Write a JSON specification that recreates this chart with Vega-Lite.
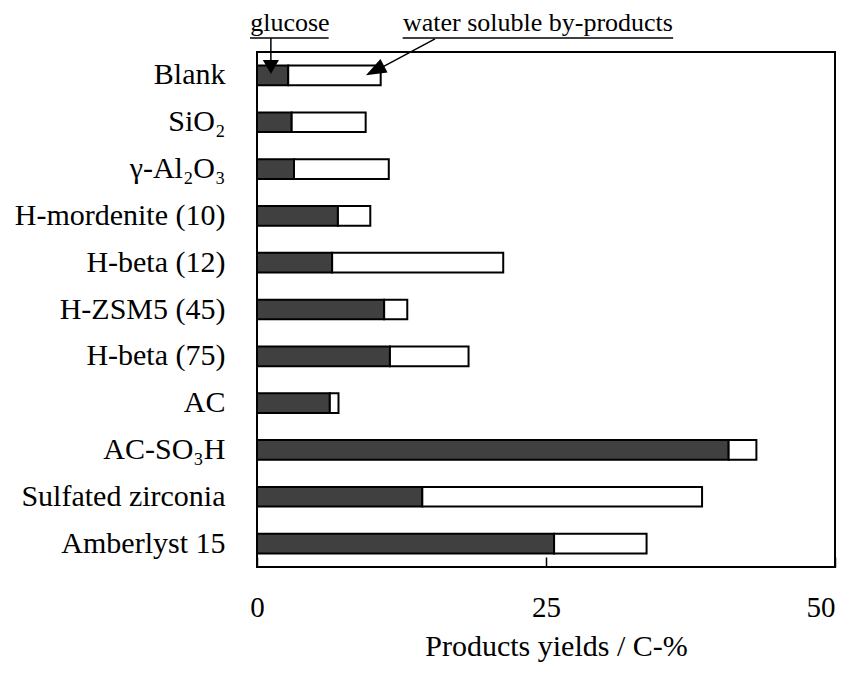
{
  "$schema": "https://vega.github.io/schema/vega-lite/v6.json",
  "width": 578,
  "height": 515,
  "autosize": {"type": "none"},
  "padding": {"left": 257, "top": 52, "right": 6, "bottom": 106},
  "background": "white",
  "config": {
    "view": {"stroke": "black", "strokeWidth": 2},
    "font": "Liberation Serif"
  },
  "datasets": {
    "yields": [
      {"catalyst": "Blank", "product": "glucose", "ord": 1, "value": 2.7},
      {"catalyst": "Blank", "product": "water soluble by-products", "ord": 2, "value": 8.0},
      {"catalyst": "SiO₂", "product": "glucose", "ord": 1, "value": 3.0},
      {"catalyst": "SiO₂", "product": "water soluble by-products", "ord": 2, "value": 6.4},
      {"catalyst": "γ-Al₂O₃", "product": "glucose", "ord": 1, "value": 3.2},
      {"catalyst": "γ-Al₂O₃", "product": "water soluble by-products", "ord": 2, "value": 8.2},
      {"catalyst": "H-mordenite (10)", "product": "glucose", "ord": 1, "value": 7.0},
      {"catalyst": "H-mordenite (10)", "product": "water soluble by-products", "ord": 2, "value": 2.8},
      {"catalyst": "H-beta (12)", "product": "glucose", "ord": 1, "value": 6.5},
      {"catalyst": "H-beta (12)", "product": "water soluble by-products", "ord": 2, "value": 14.8},
      {"catalyst": "H-ZSM5 (45)", "product": "glucose", "ord": 1, "value": 11.0},
      {"catalyst": "H-ZSM5 (45)", "product": "water soluble by-products", "ord": 2, "value": 2.0},
      {"catalyst": "H-beta (75)", "product": "glucose", "ord": 1, "value": 11.5},
      {"catalyst": "H-beta (75)", "product": "water soluble by-products", "ord": 2, "value": 6.8},
      {"catalyst": "AC", "product": "glucose", "ord": 1, "value": 6.3},
      {"catalyst": "AC", "product": "water soluble by-products", "ord": 2, "value": 0.75},
      {"catalyst": "AC-SO₃H", "product": "glucose", "ord": 1, "value": 40.8},
      {"catalyst": "AC-SO₃H", "product": "water soluble by-products", "ord": 2, "value": 2.4},
      {"catalyst": "Sulfated zirconia", "product": "glucose", "ord": 1, "value": 14.3},
      {"catalyst": "Sulfated zirconia", "product": "water soluble by-products", "ord": 2, "value": 24.2},
      {"catalyst": "Amberlyst 15", "product": "glucose", "ord": 1, "value": 25.7},
      {"catalyst": "Amberlyst 15", "product": "water soluble by-products", "ord": 2, "value": 8.0}
    ],
    "labels": [
      {"text": "glucose", "x": 2.85, "y": 11.45},
      {"text": "water soluble by-products", "x": 24.3, "y": 11.45}
    ],
    "underlines": [
      {"x": -0.6, "x2": 6.2, "y": 11.30},
      {"x": 12.6, "x2": 36.0, "y": 11.30}
    ],
    "arrows": [
      {"arrow": "glucose", "x": 1.2, "y": 11.30},
      {"arrow": "glucose", "x": 1.2, "y": 10.70},
      {"arrow": "water", "x": 15.4, "y": 11.28},
      {"arrow": "water", "x": 10.8, "y": 10.67}
    ],
    "headG": [{"x": 1.2, "y": 10.68}],
    "headW": [{"x": 10.4, "y": 10.63}]
  },
  "layer": [
    {
      "data": {"name": "yields"},
      "mark": {"type": "bar", "stroke": "black", "strokeWidth": 2},
      "encoding": {
        "y": {
          "field": "catalyst", "type": "nominal", "sort": null,
          "scale": {"paddingInner": 0.58, "paddingOuter": 0.29},
          "axis": {
            "title": null, "ticks": false, "domain": false,
            "labelPadding": 32, "labelFontSize": 30, "labelFont": "Liberation Serif",
            "labelColor": "black", "labelLimit": 400
          }
        },
        "x": {
          "field": "value", "type": "quantitative", "stack": "zero",
          "title": "Products yields / C-%",
          "scale": {"domain": [0, 50], "nice": false},
          "axis": {
            "values": [0, 25, 50],
            "grid": false, "domain": false,
            "tickSize": -10, "tickColor": "black", "tickWidth": 1.5,
            "labelFlush": false,
            "labelAlign": {"expr": "datum.value == 50 ? 'right' : 'center'"},
            "labelDx": {"expr": "datum.value == 50 ? -4 : (datum.value == 0 ? -3 : 0)"},
            "labelPadding": 36, "labelFontSize": 29, "labelFont": "Liberation Serif",
            "labelColor": "black",
            "titleFont": "Liberation Serif", "titleFontSize": 30, "titleFontWeight": "normal",
            "titleColor": "black", "titlePadding": 9, "titleX": 299
          }
        },
        "color": {
          "field": "product", "type": "nominal",
          "scale": {"domain": ["glucose", "water soluble by-products"], "range": ["#404040", "#ffffff"]},
          "legend": null
        },
        "order": {"field": "ord", "type": "quantitative"}
      }
    },
    {
      "layer": [
        {
          "data": {"name": "labels"},
          "mark": {"type": "text", "font": "Liberation Serif", "fontSize": 26, "color": "black", "align": "center", "baseline": "alphabetic"},
          "encoding": {
            "x": {"field": "x", "type": "quantitative", "title": "Products yields / C-%"},
            "y": {"field": "y", "type": "quantitative"},
            "text": {"field": "text"}
          }
        },
        {
          "data": {"name": "underlines"},
          "mark": {"type": "rule", "color": "black", "strokeWidth": 1.5},
          "encoding": {
            "x": {"field": "x", "type": "quantitative", "title": "Products yields / C-%"},
            "x2": {"field": "x2"},
            "y": {"field": "y", "type": "quantitative"}
          }
        },
        {
          "data": {"name": "arrows"},
          "mark": {"type": "line", "color": "black", "strokeWidth": 1.5},
          "encoding": {
            "x": {"field": "x", "type": "quantitative", "title": "Products yields / C-%"},
            "y": {"field": "y", "type": "quantitative"},
            "detail": {"field": "arrow"}
          }
        },
        {
          "data": {"name": "headG"},
          "mark": {"type": "point", "shape": "triangle-down", "filled": true, "color": "black", "size": 260, "opacity": 1},
          "encoding": {
            "x": {"field": "x", "type": "quantitative", "title": "Products yields / C-%"},
            "y": {"field": "y", "type": "quantitative"}
          }
        },
        {
          "data": {"name": "headW"},
          "mark": {"type": "point", "shape": "M -0.886 0.464 L 0.81 0.254 L 0.254 -0.81 Z", "filled": true, "color": "black", "size": 650, "opacity": 1},
          "encoding": {
            "x": {"field": "x", "type": "quantitative", "title": "Products yields / C-%"},
            "y": {"field": "y", "type": "quantitative"}
          }
        }
      ],
      "encoding": {
        "y": {"scale": {"domain": [0, 11], "nice": false, "zero": false}, "axis": null}
      }
    }
  ],
  "resolve": {"scale": {"y": "independent"}, "axis": {"y": "independent"}}
}
